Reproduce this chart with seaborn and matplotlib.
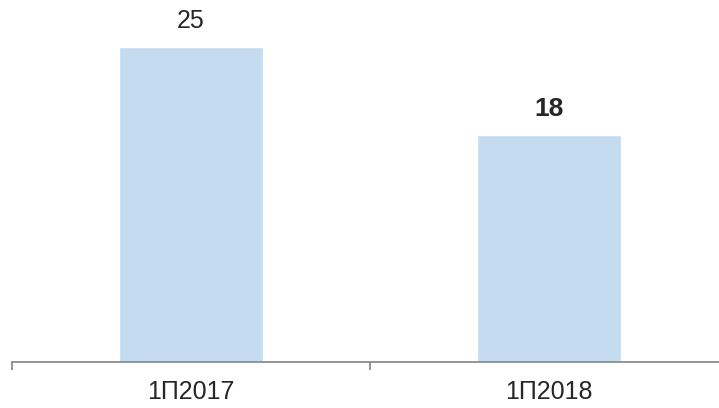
import matplotlib
matplotlib.use("Agg")
import matplotlib.pyplot as plt
import seaborn as sns
import pandas as pd

periodos = ["1П2017", "1П2018"]
valores = [25, 18]
negrito = [False, True]

sns.set_style("white")
plt.rcParams["font.family"] = ["Liberation Sans", "DejaVu Sans"]

df = pd.DataFrame({"periodo": periodos, "valor": valores})

fig = plt.figure(figsize=(7.19, 4.08), dpi=100)
ax = fig.add_axes([12 / 719, 46 / 408, 716 / 719, 362 / 408])

sns.barplot(data=df, x="periodo", y="valor", color="#c5dbf0", saturation=1,
            width=0.4, ax=ax)

ax.set_xlim(-0.5, 1.5)
ax.set_ylim(0, 362 / 12.6)

for i, (v, b) in enumerate(zip(valores, negrito)):
    ax.annotate(str(v), (i, v), xytext=(0, 10), textcoords="offset points",
                ha="center", va="bottom", fontsize=19 if b else 18,
                fontweight="bold" if b else "normal", color="#262626")

# eixo só embaixo
for lado in ["left", "right", "top"]:
    ax.spines[lado].set_visible(False)
ax.spines["bottom"].set_color("#8c8c8c")
ax.spines["bottom"].set_linewidth(1.3)

ax.set_yticks([])
ax.set_xlabel("")
ax.set_ylabel("")
ax.tick_params(axis="x", which="major", length=0, pad=13, labelsize=18,
               labelcolor="#262626")
ax.set_xticks([-0.5, 0.5, 1.5], minor=True)
ax.tick_params(axis="x", which="minor", length=6, width=1.3, color="#8c8c8c",
               direction="out", bottom=True)

fig.savefig("out.png", dpi=100)
